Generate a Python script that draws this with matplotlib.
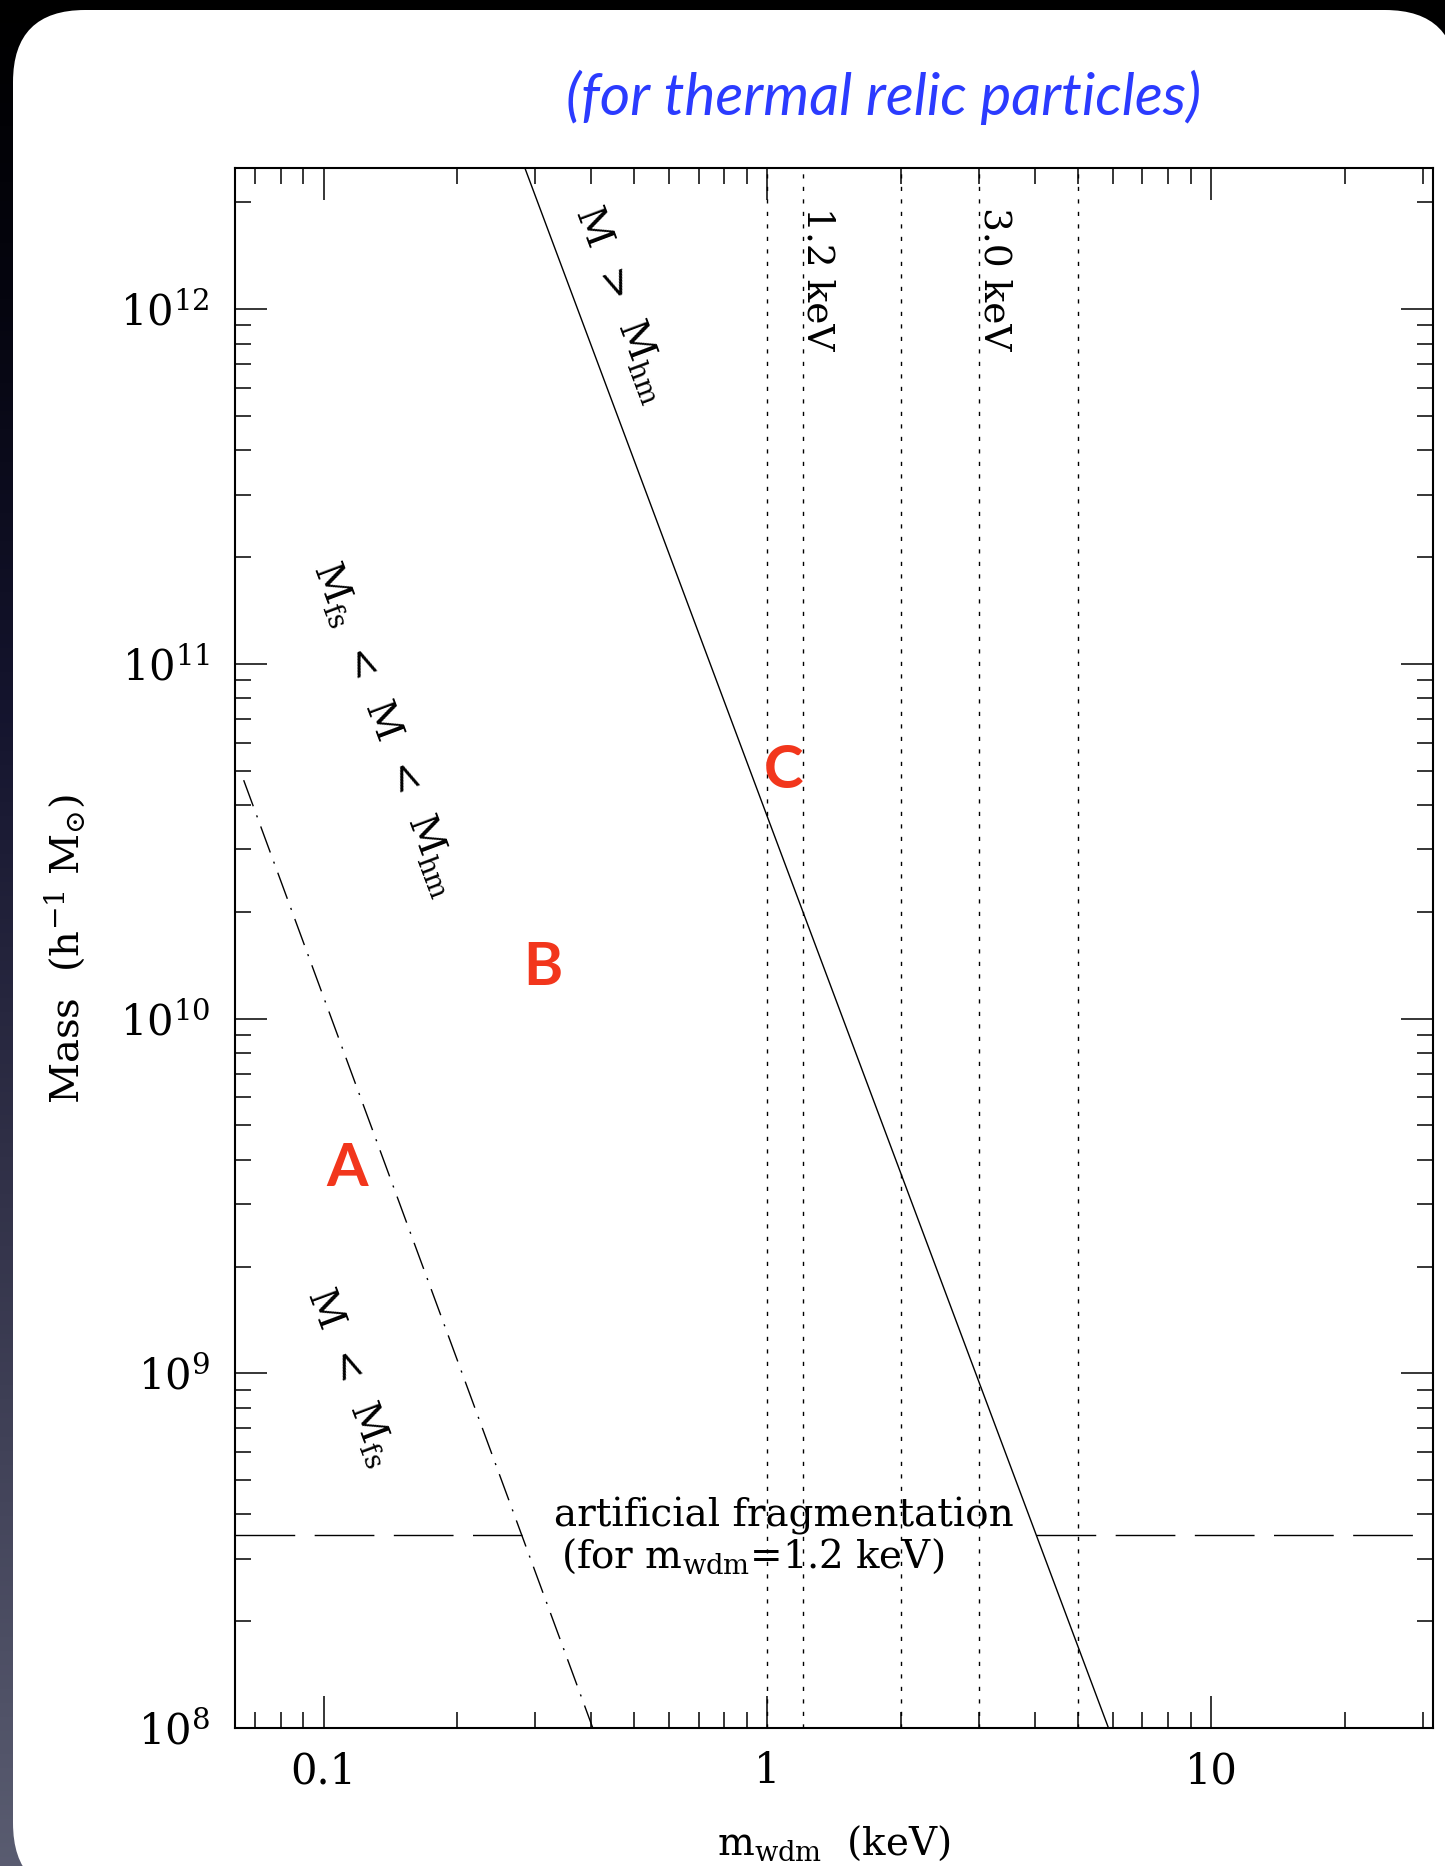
import numpy as np
import matplotlib
matplotlib.use("Agg")
import matplotlib.pyplot as plt
from matplotlib.patches import FancyBboxPatch
from matplotlib.colors import LinearSegmentedColormap
from matplotlib.ticker import FixedLocator, LogLocator, NullFormatter, FuncFormatter

plt.rcParams["font.family"] = ["DejaVu Serif"]
plt.rcParams["mathtext.fontset"] = "dejavuserif"

# ---- data -------------------------------------------------------------
# half-mode mass versus thermal-relic particle mass
m_hm = [0.284, 1.0, 5.87]            # keV
M_hm = [2.5e12, 3.7e10, 1.0e8]       # h^-1 Msun
# free-streaming mass
m_fs = [0.066, 0.404]                # keV
M_fs = [4.7e10, 1.0e8]               # h^-1 Msun
# particle masses marked with vertical lines
m_marks = [1.0, 1.2, 2.0, 3.0, 5.0]  # keV
# spurious fragmentation mass scale for m_wdm = 1.2 keV
M_frag = 3.5e8
x_ticks = [0.1, 1, 10]
x_tick_labels = ["0.1", "1", "10"]
x_range = (10 ** -1.2, 10 ** 1.5)
y_range = (1e8, 2.5e12)

W, H = 1445, 1866
fig = plt.figure(figsize=(W / 100, H / 100), dpi=100)

# ---- slide background and rounded panel --------------------------------
bg = fig.add_axes([0, 0, 1, 1], zorder=-10)
bg.set_xlim(0, W)
bg.set_ylim(H, 0)
bg.axis("off")
cmap = LinearSegmentedColormap.from_list(
    "slide",
    [(0.0, (0, 0, 0)), (0.16, (0.02, 0.02, 0.06)), (0.38, (0.08, 0.08, 0.18)),
     (0.65, (0.2, 0.2, 0.29)), (1.0, (0.35, 0.36, 0.44))])
grad = np.linspace(0, 1, 400)[:, None]
bg.imshow(grad, cmap=cmap, aspect="auto", extent=[0, W, H, 0])
bg.add_patch(FancyBboxPatch((13, 10), 1444, 1885,
                            boxstyle="round,pad=0,rounding_size=72",
                            fc="white", ec="none"))

fig.text(742 * 1.1903 / W, 1 - 82 * 1.1903 / H, "(for thermal relic particles)",
         family="Lato", style="italic", fontsize=42, color="#2b3bff",
         ha="center", va="center")

# ---- main plot ----------------------------------------------------------
ax = fig.add_axes([235 / W, 1 - 1728 / H, 1198 / W, 1560 / H])
ax.set_xscale("log")
ax.set_yscale("log")
ax.set_xlim(*x_range)
ax.set_ylim(*y_range)
ax.set_facecolor("none")

lw = 1.0
# fragmentation scale, shown outside the allowed band only
logM = np.log10(M_frag)
x_fs_cross = 10 ** np.interp(logM, np.log10(M_fs)[::-1], np.log10(m_fs)[::-1])
x_hm_cross = 10 ** np.interp(logM, np.log10(M_hm)[::-1], np.log10(m_hm)[::-1])
dash_long = (0, (43, 14))
ax.plot([x_range[0], x_fs_cross], [M_frag, M_frag], color="k", lw=lw,
        linestyle=dash_long, zorder=1)
ax.plot([x_hm_cross, x_range[1]], [M_frag, M_frag], color="k", lw=lw,
        linestyle=dash_long, zorder=1)

for m in m_marks:
    ax.axvline(m, color="k", lw=lw, linestyle=(0, (3, 6)), zorder=2)

ax.plot(m_hm, M_hm, color="k", lw=lw, zorder=2)
ax.plot(m_fs, M_fs, color="k", lw=lw, linestyle=(0, (20, 7, 1.5, 7)), zorder=2)

# ---- axes styling ------------------------------------------------------
for s in ax.spines.values():
    s.set_linewidth(1.5)
ax.xaxis.set_major_locator(FixedLocator(x_ticks))
ax.xaxis.set_major_formatter(FuncFormatter(
    lambda v, p: x_tick_labels[x_ticks.index(v)] if v in x_ticks else ""))
ax.xaxis.set_minor_locator(LogLocator(base=10, subs=np.arange(2, 10), numticks=20))
ax.xaxis.set_minor_formatter(NullFormatter())
ax.yaxis.set_major_locator(LogLocator(base=10, numticks=20))
ax.yaxis.set_minor_locator(LogLocator(base=10, subs=np.arange(2, 10), numticks=20))
ax.yaxis.set_minor_formatter(NullFormatter())
ax.tick_params(which="both", direction="in", top=True, right=True, width=1.1)
ax.tick_params(which="major", length=23)
ax.tick_params(which="minor", length=11.5)
ax.tick_params(axis="x", which="major", labelsize=30, pad=16)
ax.tick_params(axis="y", which="major", labelsize=30, pad=18)

fig.text(65 / W, 1 - 949 / H, r"Mass  (h$^{-1}$ M$_{\odot}$)", rotation=90,
         fontsize=29, ha="center", va="center")
fig.text(834 / W, 1 - 1855 / H, r"m$_{\rm wdm}$  (keV)", fontsize=28,
         ha="center", va="baseline")

# ---- annotations ----------------------------------------------------------
rot = -69.5
txt_kw = dict(rotation=rot, rotation_mode="anchor", ha="center", va="center",
              fontsize=28, zorder=3)
ax.text(0.4705, 1.035e12, r"M  >  M$_{\rm hm}$", **txt_kw)
ax.text(0.1378, 6.55e10, r"M$_{\rm fs}$  <  M  <  M$_{\rm hm}$", **txt_kw)
ax.text(0.115, 9.78e8, r"M  <  M$_{\rm fs}$", **txt_kw)

for m, lab in [(1.2, "1.2 keV"), (3.0, "3.0 keV")]:
    ax.annotate(lab, xy=(m, 0.975), xycoords=("data", "axes fraction"),
                xytext=(11, 0), textcoords="offset points", rotation=-90,
                ha="center", va="top", fontsize=27, zorder=3)

ax.text(1.089, 3.69e8, "artificial fragmentation", fontsize=28,
        ha="center", va="baseline", zorder=1.5)
ax.text(0.927, 2.82e8, r"(for m$_{\rm wdm}$=1.2 keV)", fontsize=28,
        ha="center", va="baseline", zorder=1.5)

red = "#f2361c"
for x, y, s in [(0.1127, 3.77e9, "A"), (0.3126, 1.39e10, "B"), (1.089, 4.99e10, "C")]:
    ax.text(x, y, s, family="Lato", weight="bold", fontsize=43, color=red,
            ha="center", va="center", zorder=4)

fig.savefig("out.png", dpi=100)
